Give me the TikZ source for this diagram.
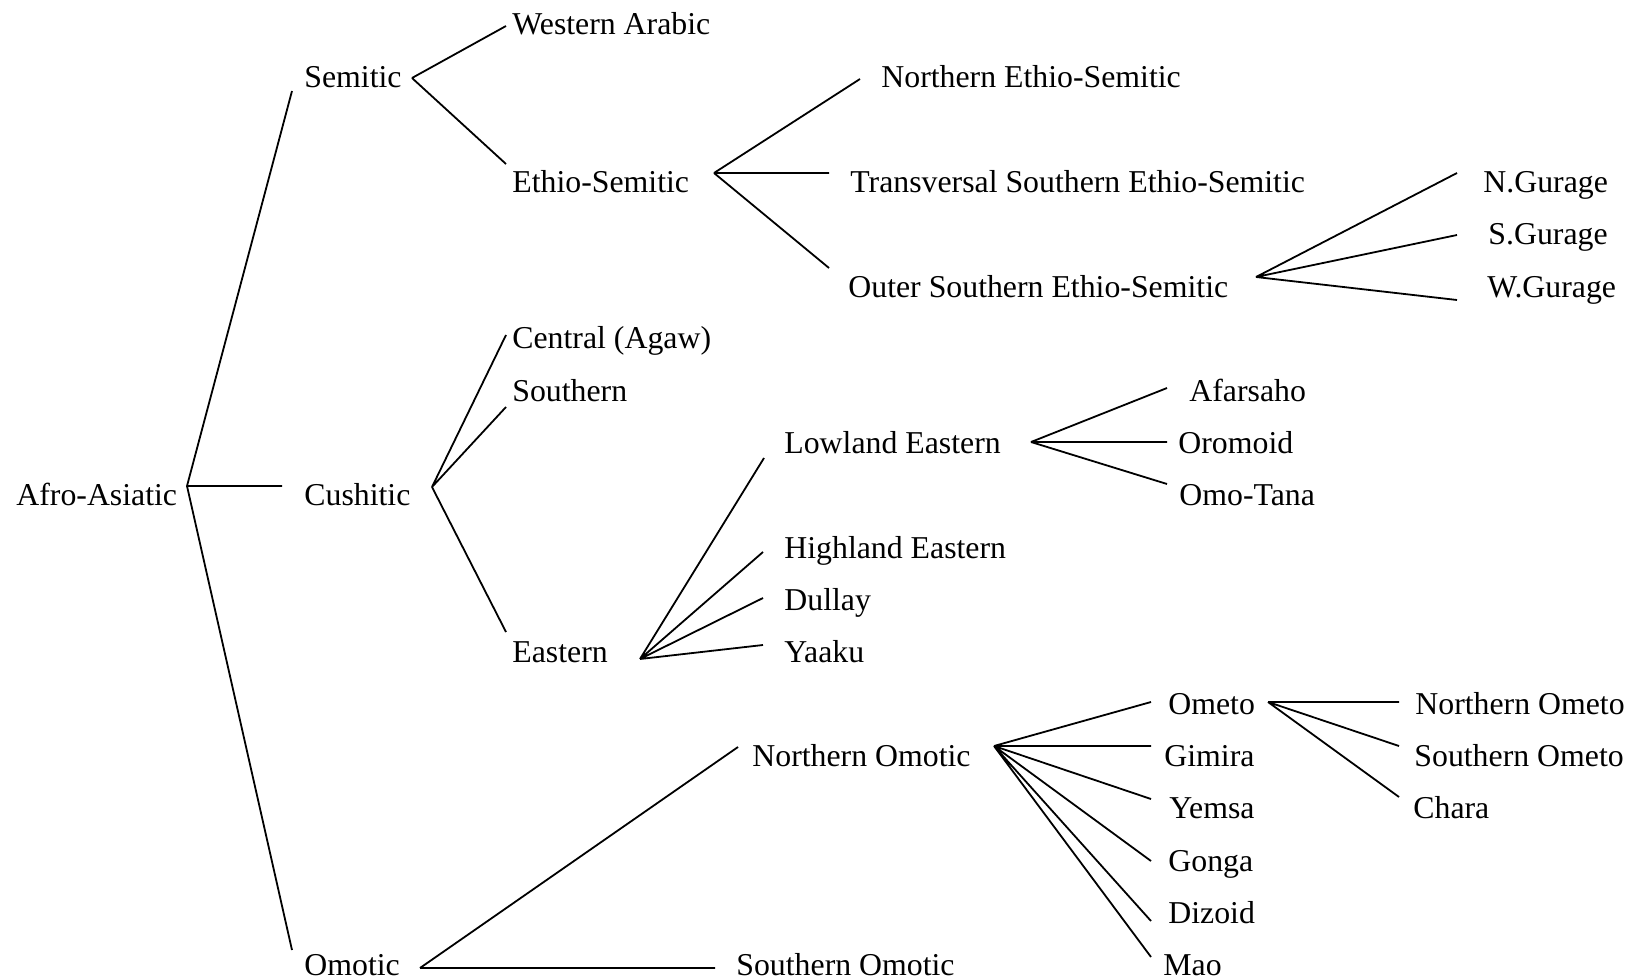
\documentclass[tikz,border=0pt]{standalone}
\usepackage{fontspec}
\setmainfont{Liberation Serif}
\usepackage{tikz}

\begin{document}
\begin{tikzpicture}[
  x=0.5pt, y=-0.5pt,
  lang/.style={anchor=base west, inner sep=0pt, font=\fontsize{15.9}{19}\selectfont},
  br/.style={line width=0.9pt}
]
  \useasboundingbox (0,0) rectangle (1627,979);

  % labels
  \node[lang] (afro) at (16,505) {Afro-Asiatic};
  \node[lang] (sem) at (304,88) {Semitic};
  \node[lang] (cush) at (304,505) {Cushitic};
  \node[lang] (omo) at (304,975) {Omotic};
  \node[lang] (wara) at (512,35) {Western Arabic};
  \node[lang] (ethio) at (512,192) {Ethio-Semitic};
  \node[lang] (cent) at (512,348) {Central (Agaw)};
  \node[lang] (south) at (512,401) {Southern};
  \node[lang] (east) at (512,662) {Eastern};
  \node[lang] (nes) at (881,88) {Northern Ethio-Semitic};
  \node[lang] (tses) at (850,192) {Transversal Southern Ethio-Semitic};
  \node[lang] (oses) at (848,297) {Outer Southern Ethio-Semitic};
  \node[lang] (ngur) at (1483,192) {N.Gurage};
  \node[lang] (sgur) at (1488,244) {S.Gurage};
  \node[lang] (wgur) at (1487,297) {W.Gurage};
  \node[lang] (low) at (784,453) {Lowland Eastern};
  \node[lang] (afar) at (1189,401) {Afarsaho};
  \node[lang] (orom) at (1178,453) {Oromoid};
  \node[lang] (omot) at (1179,505) {Omo-Tana};
  \node[lang] (high) at (784,558) {Highland Eastern};
  \node[lang] (dul) at (784,610) {Dullay};
  \node[lang] (yaa) at (784,662) {Yaaku};
  \node[lang] (nomo) at (752,766) {Northern Omotic};
  \node[lang] (somo) at (736,975) {Southern Omotic};
  \node[lang] (omet) at (1168,714) {Ometo};
  \node[lang] (gim) at (1164,766) {Gimira};
  \node[lang] (yem) at (1169,818) {Yemsa};
  \node[lang] (gon) at (1168,871) {Gonga};
  \node[lang] (diz) at (1168,923) {Dizoid};
  \node[lang] (mao) at (1163,975) {Mao};
  \node[lang] (nomet) at (1415,714) {Northern Ometo};
  \node[lang] (somet) at (1414,766) {Southern Ometo};
  \node[lang] (chara) at (1413,818) {Chara};

  % branch points
  \coordinate (afro-o) at (187,486);
  \coordinate (sem-o) at (412,78);
  \coordinate (cush-o) at (432,487);
  \coordinate (omo-o) at (420,968);
  \coordinate (ethio-o) at (714,173);
  \coordinate (oses-o) at (1256,277);
  \coordinate (east-o) at (640,659);
  \coordinate (low-o) at (1031,442);
  \coordinate (nomo-o) at (994,746);
  \coordinate (omet-o) at (1268,702);

  % line ends
  \coordinate (sem-i) at (292,91);
  \coordinate (cush-i) at (282,486);
  \coordinate (omo-i) at (292,950);
  \coordinate (wara-i) at (506,26);
  \coordinate (ethio-i) at (506,164);
  \coordinate (cent-i) at (506,335);
  \coordinate (south-i) at (506,407);
  \coordinate (east-i) at (506,632);
  \coordinate (nes-i) at (860,79);
  \coordinate (tses-i) at (829,173);
  \coordinate (oses-i) at (829,268);
  \coordinate (ngur-i) at (1457,173);
  \coordinate (sgur-i) at (1457,235);
  \coordinate (wgur-i) at (1457,300);
  \coordinate (low-i) at (764,458);
  \coordinate (high-i) at (763,552);
  \coordinate (dul-i) at (763,598);
  \coordinate (yaa-i) at (763,645);
  \coordinate (afar-i) at (1167,388);
  \coordinate (orom-i) at (1167,442);
  \coordinate (omot-i) at (1167,484);
  \coordinate (nomo-i) at (738,747);
  \coordinate (somo-i) at (715,968);
  \coordinate (omet-i) at (1151,702);
  \coordinate (gim-i) at (1151,746);
  \coordinate (yem-i) at (1151,799);
  \coordinate (gon-i) at (1151,861);
  \coordinate (diz-i) at (1151,921);
  \coordinate (mao-i) at (1151,957);
  \coordinate (nomet-i) at (1399,702);
  \coordinate (somet-i) at (1399,746);
  \coordinate (chara-i) at (1399,797);

  % branches
  \draw[br] (afro-o) -- (sem-i) (afro-o) -- (cush-i) (afro-o) -- (omo-i);
  \draw[br] (sem-o) -- (wara-i) (sem-o) -- (ethio-i);
  \draw[br] (ethio-o) -- (nes-i) (ethio-o) -- (tses-i) (ethio-o) -- (oses-i);
  \draw[br] (oses-o) -- (ngur-i) (oses-o) -- (sgur-i) (oses-o) -- (wgur-i);
  \draw[br] (cush-o) -- (cent-i) (cush-o) -- (south-i) (cush-o) -- (east-i);
  \draw[br] (east-o) -- (low-i) (east-o) -- (high-i) (east-o) -- (dul-i) (east-o) -- (yaa-i);
  \draw[br] (low-o) -- (afar-i) (low-o) -- (orom-i) (low-o) -- (omot-i);
  \draw[br] (omo-o) -- (nomo-i) (omo-o) -- (somo-i);
  \draw[br] (nomo-o) -- (omet-i) (nomo-o) -- (gim-i) (nomo-o) -- (yem-i)
            (nomo-o) -- (gon-i) (nomo-o) -- (diz-i) (nomo-o) -- (mao-i);
  \draw[br] (omet-o) -- (nomet-i) (omet-o) -- (somet-i) (omet-o) -- (chara-i);
\end{tikzpicture}
\end{document}
